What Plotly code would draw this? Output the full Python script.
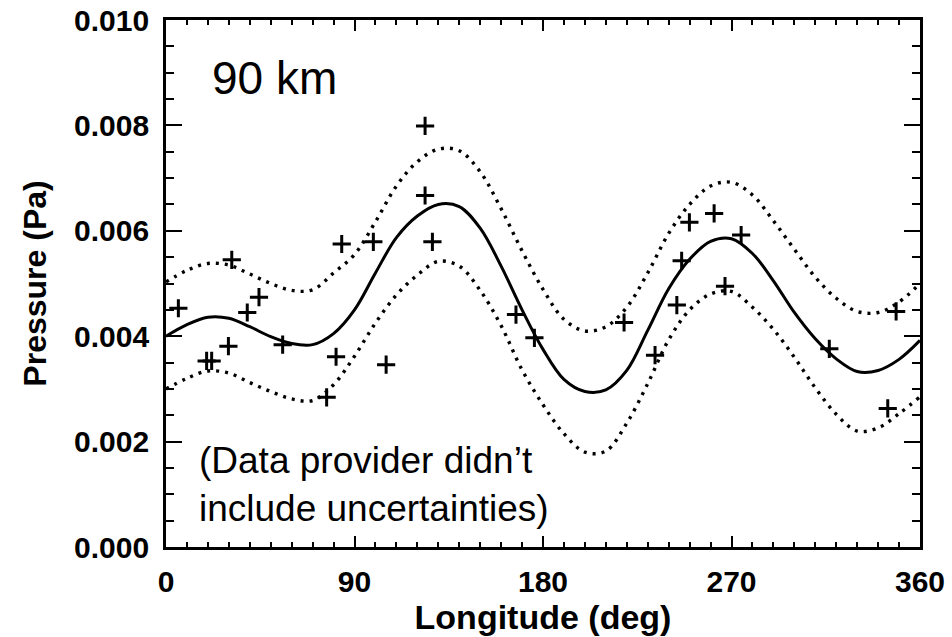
import plotly.graph_objects as go

# Longitude grid for the fitted curves (deg)
fit_lon = [0, 10, 20, 30, 40, 50, 60, 70, 80, 90, 100, 110, 120, 130, 140, 150, 160, 170, 180,
           190, 200, 210, 220, 230, 240, 250, 260, 270, 280, 290, 300, 310, 320, 330, 340, 350, 360]

# Best-fit pressure (Pa)
fit_mid = [0.00400, 0.00422, 0.00436, 0.00434, 0.00418, 0.00399, 0.00386, 0.00384, 0.00405, 0.00450,
           0.00520, 0.00587, 0.00628, 0.00650, 0.00646, 0.00605, 0.00533, 0.00450, 0.00375,
           0.00318, 0.00295, 0.00298, 0.00335, 0.00411, 0.00490, 0.00546, 0.00580, 0.00585,
           0.00557, 0.00505, 0.00445, 0.00395, 0.00357, 0.00333, 0.00335, 0.00356, 0.00392]

# Upper envelope (Pa)
fit_upper = [0.00503, 0.00525, 0.00538, 0.00535, 0.00518, 0.00500, 0.00487, 0.00488, 0.00520, 0.00555,
             0.00617, 0.00685, 0.00731, 0.00755, 0.00752, 0.00712, 0.00642, 0.00562, 0.00489,
             0.00432, 0.00410, 0.00418, 0.00455, 0.00520, 0.00595, 0.00650, 0.00685, 0.00692,
             0.00668, 0.00619, 0.00565, 0.00512, 0.00472, 0.00447, 0.00445, 0.00465, 0.00500]

# Lower envelope (Pa)
fit_lower = [0.00300, 0.00320, 0.00334, 0.00330, 0.00312, 0.00295, 0.00281, 0.00278, 0.00308, 0.00362,
             0.00425, 0.00478, 0.00516, 0.00542, 0.00533, 0.00487, 0.00420, 0.00336, 0.00270,
             0.00215, 0.00180, 0.00182, 0.00235, 0.00310, 0.00393, 0.00450, 0.00480, 0.00485,
             0.00455, 0.00413, 0.00360, 0.00302, 0.00252, 0.00220, 0.00226, 0.00253, 0.00285]

# Observations
obs_lon = [5.9, 19.4, 21.8, 29.8, 31.4, 38.8, 44.4, 55.7, 76.7, 81.2, 83.9, 99.0, 105.1, 123.7, 123.7,
           127.2, 167.1, 175.9, 218.7, 233.5, 243.9, 246.2, 249.9, 261.7, 266.9, 274.6, 316.7, 344.6, 348.6]
obs_p = [0.00453, 0.00353, 0.00353, 0.00381, 0.00545, 0.00445, 0.00474, 0.00384, 0.00284, 0.00361,
         0.00575, 0.00579, 0.00346, 0.00799, 0.00667, 0.00579, 0.00441, 0.00397, 0.00426, 0.00364,
         0.00459, 0.00543, 0.00616, 0.00633, 0.00495, 0.00592, 0.00376, 0.00263, 0.00447]

x_ticks = [0, 90, 180, 270, 360]
y_ticks = [0.000, 0.002, 0.004, 0.006, 0.008, 0.010]
y_tick_text = ["0.000", "0.002", "0.004", "0.006", "0.008", "0.010"]

FONT = "Liberation Sans, Arial, Helvetica, sans-serif"

fig = go.Figure()
for ys in (fit_upper, fit_lower):
    fig.add_trace(go.Scatter(x=fit_lon, y=ys, mode="lines", line_shape="spline",
                             line=dict(color="black", width=3.4, dash="3px,6px"),
                             showlegend=False, hoverinfo="skip"))
fig.add_trace(go.Scatter(x=fit_lon, y=fit_mid, mode="lines", line_shape="spline",
                         line=dict(color="black", width=3), showlegend=False))
fig.add_trace(go.Scatter(x=obs_lon, y=obs_p, mode="markers",
                         marker=dict(symbol="cross-thin", size=13, color="black",
                                     line=dict(color="black", width=3)),
                         showlegend=False))

fig.update_layout(
    width=952, height=637,
    margin=dict(l=166, r=32, t=20, b=90),
    paper_bgcolor="white", plot_bgcolor="white",
    font=dict(family=FONT, color="black"),
    xaxis=dict(range=[0, 360], tickvals=x_ticks, ticktext=[str(v) for v in x_ticks],
               automargin=False,
               ticks="inside", ticklen=11, tickwidth=2.2, tickcolor="black",
               minor=dict(dtick=10, ticks="inside", ticklen=5.5, tickwidth=2, tickcolor="black"),
               showline=True, linewidth=2.8, linecolor="black", mirror="allticks",
               showgrid=False, zeroline=False,
               tickfont=dict(family=FONT, size=30, weight="bold"),
               ticklabelstandoff=6, ticklabeloverflow="allow",
               title=dict(text="Longitude (deg)", font=dict(family=FONT, size=34, weight="bold"),
                          standoff=8)),
    yaxis=dict(range=[0, 0.0100001], tickvals=y_ticks, ticktext=y_tick_text,
               automargin=False,
               ticks="inside", ticklen=16, tickwidth=2.2, tickcolor="black",
               minor=dict(dtick=0.0005, ticks="inside", ticklen=8, tickwidth=2, tickcolor="black"),
               showline=True, linewidth=2.8, linecolor="black", mirror="allticks",
               showgrid=False, zeroline=False,
               tickfont=dict(family=FONT, size=30, weight="bold"),
               ticklabelstandoff=8, ticklabeloverflow="allow",
               title=dict(text="Pressure (Pa)", font=dict(family=FONT, size=32, weight="bold"),
                          standoff=18)),
    annotations=[
        dict(x=21, y=0.0100, xref="x", yref="y", text="90 km", showarrow=False,
             xanchor="left", yanchor="top", yshift=-30,
             font=dict(family=FONT, size=46, color="black")),
        dict(x=15, y=0.0, xref="x", yref="y",
             text="(Data provider didn\u2019t<br>include uncertainties)", showarrow=False,
             xanchor="left", yanchor="bottom", align="left", yshift=16,
             font=dict(family=FONT, size=37, color="black")),
    ],
)

fig.write_html("out.html", config={"displayModeBar": False},
               post_script="document.body.style.margin='0';document.body.style.padding='0';")
